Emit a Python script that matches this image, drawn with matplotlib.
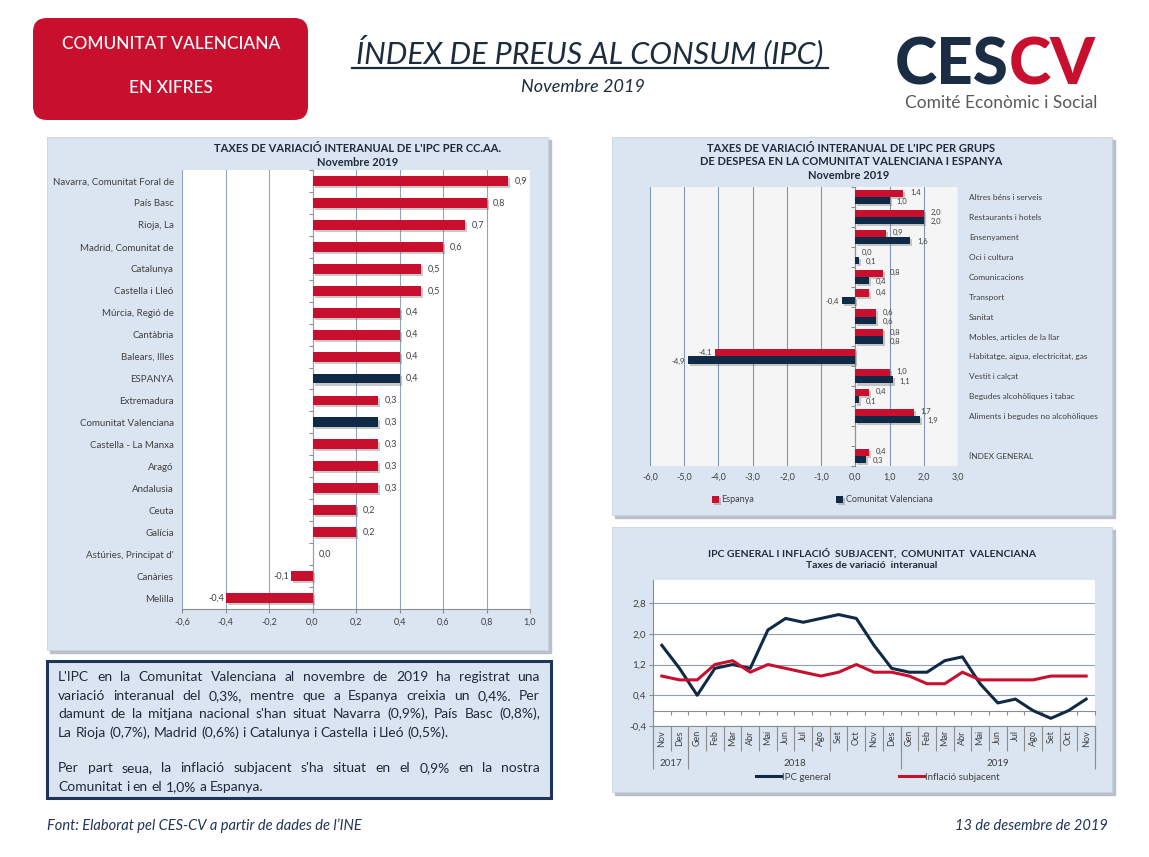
import numpy as np
import matplotlib
matplotlib.use("Agg")
from matplotlib import pyplot as plt
from matplotlib.patches import FancyBboxPatch, Rectangle
import matplotlib.patheffects as pe

plt.rcParams['font.family'] = ['Lato', 'DejaVu Sans']

RED = '#c8102e'
NAVY = '#0e2a47'
PANEL = '#dbe5f1'
INK = '#1c2b3d'
TICK = '#404040'
GRID = '#8fa4be'

# ---- data: IPC per comunitat autonoma (Novembre 2019)
regions = ['Navarra, Comunitat Foral de', 'País Basc', 'Rioja, La', 'Madrid, Comunitat de',
           'Catalunya', 'Castella i Lleó', 'Múrcia, Regió de', 'Cantàbria', 'Balears, Illes',
           'ESPANYA', 'Extremadura', 'Comunitat Valenciana', 'Castella - La Manxa', 'Aragó',
           'Andalusia', 'Ceuta', 'Galícia', "Astúries, Principat d'", 'Canàries', 'Melilla']
region_values = [0.9, 0.8, 0.7, 0.6, 0.5, 0.5, 0.4, 0.4, 0.4, 0.4,
                 0.3, 0.3, 0.3, 0.3, 0.3, 0.2, 0.2, 0.0, -0.1, -0.4]
highlight = ['ESPANYA', 'Comunitat Valenciana']

# ---- data: grups de despesa
groups = ['Altres béns i serveis', 'Restaurants i hotels', 'Ensenyament', 'Oci i cultura',
          'Comunicacions', 'Transport', 'Sanitat', 'Mobles, articles de la llar',
          'Habitatge, aigua, electricitat, gas', 'Vestit i calçat',
          'Begudes alcohòliques i tabac', 'Aliments i begudes no alcohòliques', '',
          'ÍNDEX GENERAL']
groups_spain = [1.4, 2.0, 0.9, 0.0, 0.8, 0.4, 0.6, 0.8, -4.1, 1.0, 0.4, 1.7, np.nan, 0.4]
groups_cv = [1.0, 2.0, 1.6, 0.1, 0.4, -0.4, 0.6, 0.8, -4.9, 1.1, 0.1, 1.9, np.nan, 0.3]

# ---- data: IPC general i inflacio subjacent, CV
months = ['Nov', 'Des',
          'Gen', 'Feb', 'Mar', 'Abr', 'Mai', 'Jun', 'Jul', 'Ago', 'Set', 'Oct', 'Nov', 'Des',
          'Gen', 'Feb', 'Mar', 'Abr', 'Mai', 'Jun', 'Jul', 'Ago', 'Set', 'Oct', 'Nov']
years = ['2017', '2018', '2019']
months_per_year = [2, 12, 11]
ipc_general = [1.7, 1.1, 0.4, 1.1, 1.2, 1.1, 2.1, 2.4, 2.3, 2.4, 2.5, 2.4, 1.7,
               1.1, 1.0, 1.0, 1.3, 1.4, 0.7, 0.2, 0.3, 0.0, -0.2, 0.0, 0.3]
inflacio_subjacent = [0.9, 0.8, 0.8, 1.2, 1.3, 1.0, 1.2, 1.1, 1.0, 0.9, 1.0, 1.2, 1.0,
                      1.0, 0.9, 0.7, 0.7, 1.0, 0.8, 0.8, 0.8, 0.8, 0.9, 0.9, 0.9]


def fmt(v):
    return f"{v:.1f}".replace('.', ',')


W, H = 1149, 857
fig = plt.figure(figsize=(W / 100, H / 100), dpi=100)

# background axes in pixel units for the decorations
bg = fig.add_axes([0, 0, 1, 1])
bg.set_xlim(0, W)
bg.set_ylim(H, 0)
bg.axis('off')
bg.set_zorder(-1)


def px_axes(x0, y0, x1, y1):
    return fig.add_axes([x0 / W, 1 - y1 / H, (x1 - x0) / W, (y1 - y0) / H])


def panel(x0, y0, x1, y1):
    bg.add_patch(Rectangle((x0 + 3, y0 + 3), x1 - x0, y1 - y0, color='#b9c0c9'))
    bg.add_patch(Rectangle((x0, y0), x1 - x0, y1 - y0, facecolor=PANEL, edgecolor='#c9d3df', lw=0.6))


shadow = [pe.SimplePatchShadow(offset=(1.5, -1.5), shadow_rgbFace='#666666', alpha=0.35), pe.Normal()]

# ---------------- header
bg.add_patch(FancyBboxPatch((41, 26), 259, 86, boxstyle='round,pad=8,rounding_size=14',
                            facecolor=RED, edgecolor='none'))
bg.text(171, 44, 'COMUNITAT VALENCIANA', color='white', fontsize=12.5, fontweight='medium',
        ha='center', va='center')
bg.text(171, 88, 'EN XIFRES', color='white', fontsize=12.5, fontweight='medium', ha='center', va='center')

bg.text(590, 63, 'ÍNDEX DE PREUS AL CONSUM (IPC)', color=INK, fontsize=22, style='italic',
        ha='center', va='baseline')
bg.plot([352, 828], [68, 68], color=INK, lw=1.6)
bg.text(583, 87, 'Novembre 2019', color=INK, fontsize=13, style='italic', ha='center', va='center')

bg.text(1009, 84, 'CES', color='#1b2d45', fontsize=46, fontweight='black', ha='right', va='baseline')
bg.text(1009, 84, 'CV', color=RED, fontsize=46, fontweight='black', ha='left', va='baseline')
bg.text(1001, 103, 'Comité Econòmic i Social', color='#5a5a5a', fontsize=12.5, ha='center', va='center')

# ---------------- panels
panel(47, 137, 548, 650)
panel(612, 137, 1112, 515)
panel(612, 527, 1112, 792)

# ---------------- left chart: CC.AA.
bg.text(358, 148, "TAXES DE VARIACIÓ INTERANUAL DE L'IPC PER CC.AA.", color=INK, fontsize=8,
        fontweight='bold', ha='center', va='center')
bg.text(358, 162, 'Novembre 2019', color=INK, fontsize=8, fontweight='bold', ha='center', va='center')

ax1 = px_axes(182, 170, 530, 609)
y1 = np.arange(len(regions))
colors1 = [NAVY if r in highlight else RED for r in regions]
bars = ax1.barh(y1, region_values, height=0.45, color=colors1, zorder=3)
for b in bars:
    b.set_path_effects(shadow)
for yy, v in zip(y1, region_values):
    if v >= 0:
        ax1.text(v + 0.03, yy, fmt(v), fontsize=6.5, color=TICK, ha='left', va='center')
    else:
        ax1.text(v - 0.005, yy, fmt(v), fontsize=6.5, color=TICK, ha='right', va='center')
ax1.set_xlim(-0.6, 1.0)
ax1.set_ylim(len(regions) - 0.5, -0.5)
xt1 = np.round(np.arange(-0.6, 1.01, 0.2), 1)
ax1.set_xticks(xt1, [fmt(v) for v in xt1])
ax1.set_yticks(y1, regions)
ax1.tick_params(axis='y', length=0, pad=6, labelsize=7, labelcolor=TICK)
ax1.tick_params(axis='x', length=3, color='#8c8c8c', labelsize=6.5, labelcolor=TICK)
ax1.grid(axis='x', color=GRID, lw=0.8)
ax1.set_axisbelow(True)
for s in ['top', 'right', 'left']:
    ax1.spines[s].set_visible(False)
ax1.spines['bottom'].set_color('#8c8c8c')
zero1 = ax1.secondary_yaxis(0.6 / 1.6)
zero1.set_yticks(np.arange(-0.5, len(regions), 1), [''] * (len(regions) + 1))
zero1.tick_params(length=3, color='#8c8c8c')
for s in zero1.spines.values():
    s.set_color('#8c8c8c')

# ---------------- right top chart: grups de despesa
bg.text(851, 148, "TAXES DE VARIACIÓ INTERANUAL DE L'IPC PER GRUPS", color=INK, fontsize=8,
        fontweight='bold', ha='center', va='center')
bg.text(851, 161, 'DE DESPESA EN LA COMUNITAT VALENCIANA I ESPANYA', color=INK, fontsize=8,
        fontweight='bold', ha='center', va='center')
bg.text(849, 175, 'Novembre 2019', color=INK, fontsize=8, fontweight='bold', ha='center', va='center')

ax2 = px_axes(650, 187, 958, 466)
ax2.set_facecolor('#f5f5f5')
y2 = np.arange(len(groups))
b_es = ax2.barh(y2 - 0.18, groups_spain, height=0.36, color=RED, zorder=3, label='Espanya')
b_cv = ax2.barh(y2 + 0.18, groups_cv, height=0.36, color=NAVY, zorder=3, label='Comunitat Valenciana')
for b in list(b_es) + list(b_cv):
    b.set_path_effects(shadow)
for yy, ve, vc in zip(y2, groups_spain, groups_cv):
    if np.isnan(ve):
        continue
    for v, dy in [(ve, -0.22), (vc, 0.24)]:
        if v >= 0:
            ax2.text(v + 0.2, yy + dy, fmt(v), fontsize=5.5, color=TICK, ha='left', va='center')
        else:
            ax2.text(v - 0.08, yy + dy, fmt(v), fontsize=5.5, color=TICK, ha='right', va='center')
ax2.set_xlim(-6, 3)
ax2.set_ylim(len(groups) - 0.5, -0.5)
xt2 = np.arange(-6, 3.1, 1.0)
ax2.set_xticks(xt2, [fmt(v) for v in xt2])
ax2.set_yticks(y2, groups)
ax2.yaxis.tick_right()
ax2.tick_params(axis='y', length=0, pad=8, labelsize=6, labelcolor=TICK)
ax2.tick_params(axis='x', length=0, pad=5, labelsize=6.5, labelcolor=TICK)
for lab in ax2.get_yticklabels():
    lab.set_horizontalalignment('left')
ax2.grid(axis='x', color='#7f97b2', lw=0.8)
ax2.set_axisbelow(True)
for s in ax2.spines.values():
    s.set_visible(False)
zero2 = ax2.secondary_yaxis(6 / 9)
zero2.set_alignment('left')
zero2.set_yticks(np.arange(-0.5, len(groups), 1), [''] * (len(groups) + 1))
zero2.tick_params(length=3, color='#8c8c8c')
for s in zero2.spines.values():
    s.set_color('#8c8c8c')
fig.legend(handles=[b_es, b_cv], loc='center', bbox_to_anchor=(822 / W, 1 - 500 / H), ncol=2,
           frameon=False, fontsize=6.5, handlelength=0.8, handleheight=0.8, handletextpad=0.3,
           columnspacing=9, labelcolor=TICK)

# ---------------- right bottom chart: IPC general i inflacio subjacent
bg.text(872, 553, 'IPC GENERAL I INFLACIÓ  SUBJACENT,  COMUNITAT  VALENCIANA', color=INK,
        fontsize=7.5, fontweight='bold', ha='center', va='center')
bg.text(872, 566, 'Taxes de variació  interanual', color=INK, fontsize=7.5, fontweight='bold',
        ha='center', va='center')

ax3 = px_axes(653, 580, 1095, 726)
x3 = np.arange(len(months))
l_ipc, = ax3.plot(x3, ipc_general, color=NAVY, lw=2.2, label='IPC general', zorder=3)
l_sub, = ax3.plot(x3, inflacio_subjacent, color=RED, lw=2.2, label='Inflació subjacent', zorder=3)
ax3.set_xlim(-0.5, len(months) - 0.5)
ax3.set_ylim(-0.4, 3.4)
yt3 = [-0.4, 0.4, 1.2, 2.0, 2.8]
ax3.set_yticks(yt3, [fmt(v) for v in yt3])
ax3.tick_params(axis='y', length=3, color='#8c8c8c', labelsize=7, labelcolor=TICK, pad=2)
ax3.grid(axis='y', color='#8e9fb5', lw=0.8)
ax3.set_axisbelow(True)
ax3.set_xticks(x3, months, rotation=90)
ax3.tick_params(axis='x', which='major', length=0, pad=3, labelsize=6.5, labelcolor=TICK)
ax3.set_xticks(np.arange(-0.5, len(months), 1), minor=True)
ax3.tick_params(axis='x', which='minor', length=18, color='#8c8c8c', width=0.8)
for s in ['top', 'right']:
    ax3.spines[s].set_visible(False)
ax3.spines['left'].set_color('#8c8c8c')
ax3.spines['bottom'].set_color('#8c8c8c')

year_edges = np.concatenate([[0], np.cumsum(months_per_year)]) - 0.5
year_mids = (year_edges[:-1] + year_edges[1:]) / 2
yr = ax3.secondary_xaxis('bottom')
yr.set_xticks(year_edges, [''] * len(year_edges))
yr.tick_params(which='major', length=31, color='#8c8c8c', width=0.8)
yr.set_xticks(year_mids, years, minor=True)
yr.tick_params(which='minor', length=0, pad=24, labelsize=7, labelcolor=TICK)
yr.spines['bottom'].set_visible(False)

zero3 = ax3.secondary_xaxis(0.4 / 3.8)
zero3.set_xticks(np.arange(-0.5, len(months), 1), [''] * (len(months) + 1))
zero3.tick_params(length=3, color='#8c8c8c')
for s in zero3.spines.values():
    s.set_color('#8c8c8c')

fig.legend(handles=[l_ipc, l_sub], loc='center', bbox_to_anchor=(878 / W, 1 - 777 / H), ncol=2,
           frameon=False, fontsize=7, handlelength=2.6, handletextpad=0.1, columnspacing=7,
           labelcolor=TICK)

# ---------------- commentary box
bg.add_patch(Rectangle((47, 661), 504, 137, facecolor=PANEL, edgecolor='#1f3458', lw=2.2))
FS = 10
paragraph = [
    ("L'IPC en la Comunitat Valenciana al novembre de 2019 ha registrat una", 677, True),
    ("variació interanual del 0,3%, mentre que a Espanya creixia un 0,4%. Per", 696, True),
    ("damunt de la mitjana nacional s'han situat Navarra (0,9%), País Basc (0,8%),", 714, True),
    ("La Rioja (0,7%), Madrid (0,6%) i Catalunya i Castella i Lleó (0,5%).", 733, False),
    ("Per part seua, la inflació subjacent s'ha situat en el 0,9% en la nostra", 768, True),
    ("Comunitat i en el 1,0% a Espanya.", 787, False),
]
renderer = fig.canvas.get_renderer()
probe = bg.text(0, 0, 'a a', fontsize=FS)
probe2 = bg.text(0, 0, 'aa', fontsize=FS)
space_w = probe.get_window_extent(renderer).width - probe2.get_window_extent(renderer).width
probe.remove()
probe2.remove()
x_left, x_right = 58, 540
for line, ypos, justify in paragraph:
    words = line.split(' ')
    texts = [bg.text(0, ypos, w, fontsize=FS, color=INK, ha='left', va='center') for w in words]
    widths = [t.get_window_extent(renderer).width for t in texts]
    gap = (x_right - x_left - sum(widths)) / (len(words) - 1) if justify else space_w
    xpos = x_left
    for t, w in zip(texts, widths):
        t.set_x(xpos)
        xpos += w + gap

# ---------------- footer
bg.text(47, 826, "Font: Elaborat pel CES-CV a partir de dades de l’INE", color='#1f3458', fontsize=10.5,
        style='italic', ha='left', va='center')
bg.text(1108, 826, '13 de desembre de 2019', color='#1f3458', fontsize=10.5, style='italic',
        ha='right', va='center')

fig.savefig('out.png', dpi=100, facecolor='white')
